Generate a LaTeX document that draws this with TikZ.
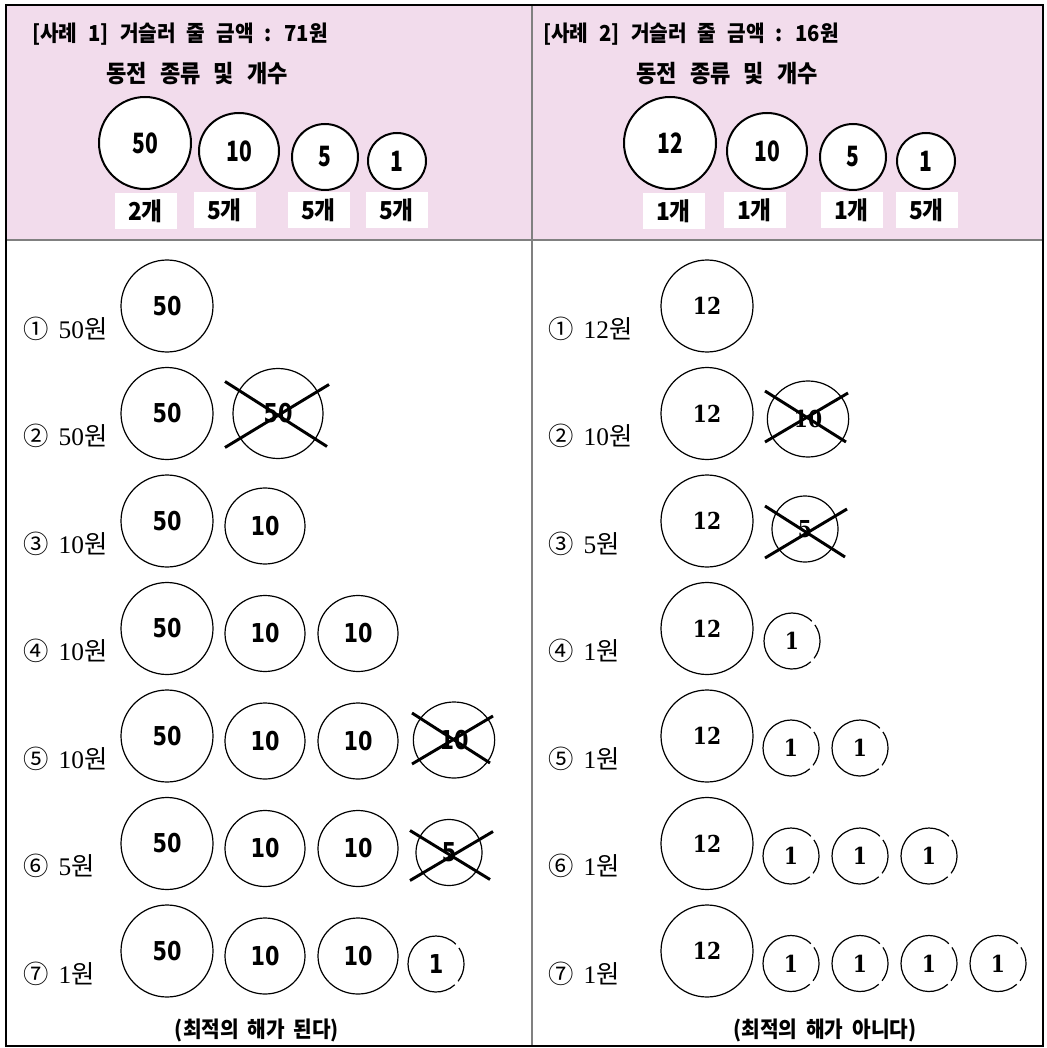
\documentclass[tikz,border=0pt]{standalone}
\usepackage{fontspec}
\setmainfont{Liberation Serif}
\newfontfamily\kr{Noto Sans CJK KR}
\newfontfamily\hd{Noto Sans CJK KR}[FakeStretch=0.92]
\newfontfamily\hdnum{Noto Sans CJK KR}[FakeStretch=0.75]
\newfontfamily\lnum{DejaVu Sans}[FakeStretch=0.8]
\newfontfamily\rnum{DejaVu Serif}[FakeStretch=0.87]
\usetikzlibrary{shapes.geometric}
\definecolor{hdpink}{RGB}{242,220,236}
\definecolor{rulegrey}{RGB}{128,128,128}
\newcommand\titlefont{\hd\bfseries\fontsize{16.5}{16.5}\selectfont\spaceskip 0.5em\relax}
\newcommand\subfont{\hd\bfseries\fontsize{18}{18}\selectfont\spaceskip 0.55em\relax}
\newcommand\conclfont{\hd\bfseries\fontsize{16.5}{16.5}\selectfont\spaceskip 0.4em\relax}
\tikzset{
  frameline/.style={line width=1.3pt,black},
  greyline/.style={line width=1.5pt,rulegrey},
  hcoin/.style={draw,line width=1.5pt,fill=white,ellipse,inner sep=0pt,outer sep=0pt,
    font=\hdnum\bfseries\fontsize{21}{21}\selectfont},
  hbig/.style={hcoin,minimum width=69pt,minimum height=69pt},
  hten/.style={hcoin,minimum width=60pt,minimum height=57pt},
  hfive/.style={hcoin,minimum width=49.5pt,minimum height=49.5pt},
  hone/.style={hcoin,minimum width=43.5pt,minimum height=42pt},
  cnt/.style={fill=white,inner sep=0pt,minimum width=46.5pt,minimum height=27pt,
    font=\hd\bfseries\fontsize{18.5}{18.5}\selectfont},
  htitle/.style={anchor=west,inner sep=0pt,font=\titlefont},
  hsub/.style={anchor=west,inner sep=0pt,font=\subfont},
  bcoin/.style={draw,line width=0.9pt,ellipse,inner sep=0pt,outer sep=0pt},
  lfont/.style={font=\lnum\bfseries\fontsize{19.5}{19.5}\selectfont},
  rfont/.style={font=\rnum\bfseries\fontsize{17.5}{17.5}\selectfont},
  bbig/.style={bcoin,minimum width=69pt,minimum height=69pt},
  xbig/.style={bcoin,minimum width=67.5pt,minimum height=67.5pt},
  bten/.style={bcoin,minimum width=60pt,minimum height=57pt},
  xten/.style={bcoin,minimum width=61pt,minimum height=57pt},
  xfive/.style={bcoin,minimum width=49.5pt,minimum height=49.5pt},
  gone/.style={circle,inner sep=0pt,outer sep=0pt,minimum size=42pt},
  gline/.style={line width=0.9pt},
  xline/.style={line width=2.2pt,line cap=butt},
  rowlab/.style={anchor=base west,inner sep=0pt,font=\fontsize{19}{19}\selectfont},
  concl/.style={inner sep=0pt,font=\conclfont},
}
\newcommand\gapcoin[1]{%
  \draw[gline] (#1.45) arc[start angle=45,end angle=312,radius=21pt];
  \draw[gline] (#1.322) arc[start angle=322,end angle=395,radius=21pt];}
\newcommand\rl[2]{{\kr #1}\hspace{0.4em}#2{\kr 원}}
\begin{document}
\begin{tikzpicture}[x=0.75pt,y=-0.75pt]
\useasboundingbox (0,0) rectangle (1046,1048);
% header background and frame
\fill[hdpink] (6,5) rectangle (1043,240);
\draw[greyline] (6,240) -- (1043,240);
\draw[greyline] (532,5) -- (532,1046);
\draw[frameline] (6,5) -- (1043,5) -- (1043,1046) -- (6,1046) -- cycle;

% ===== header left =====
\node[htitle] (t1) at (32,34) {[사례 1] 거슬러 줄 금액 : 71원};
\node[hsub] (s1) at (106,74) {동전 종류 및 개수};
\node[hbig]  (h50) at (145,143) {50};
\node[hten]  (h10) at (239,151) {10};
\node[hfive] (h5)  at (325,157) {5};
\node[hone]  (h1)  at (397,161) {1};
\node[cnt] (n50) at (145.5,211) {2개};
\node[cnt] (n10) at (224.5,210) {5개};
\node[cnt] (n5)  at (318.5,210) {5개};
\node[cnt] (n1)  at (396.5,210) {5개};

% ===== header right =====
\node[htitle] (t2) at (543,34) {[사례 2] 거슬러 줄 금액 : 16원};
\node[hsub] (s2) at (636,74) {동전 종류 및 개수};
\node[hbig]  (k12) at (670,143) {12};
\node[hten]  (k10) at (767,151) {10};
\node[hfive] (k5)  at (853,157) {5};
\node[hone]  (k1)  at (926,161) {1};
\node[cnt] (m12) at (673.5,211) {1개};
\node[cnt] (m10) at (754.5,210) {1개};
\node[cnt] (m5)  at (851.5,210) {1개};
\node[cnt] (m1)  at (926.5,210) {5개};

% ===== left body =====
\node[rowlab] (la1) at (23,338)   {\rl{①}{50}};
\node[rowlab] (la2) at (23,445.5) {\rl{②}{50}};
\node[rowlab] (la3) at (23,553)   {\rl{③}{10}};
\node[rowlab] (la4) at (23,660.5) {\rl{④}{10}};
\node[rowlab] (la5) at (23,768)   {\rl{⑤}{10}};
\node[rowlab] (la6) at (23,875.5) {\rl{⑥}{5}};
\node[rowlab] (la7) at (23,983)   {\rl{⑦}{1}};

\node[bbig,lfont] (a1) at (167,306) {50};

\node[bbig,lfont] (a2) at (167,413.5) {50};
\node[xbig,lfont] (a2x) at (278,413.5) {50};
\draw[xline] ([shift={(-53,-32)}]a2x.center) -- ([shift={(49,33)}]a2x.center);
\draw[xline] ([shift={(-53,34)}]a2x.center) -- ([shift={(51,-29)}]a2x.center);

\node[bbig,lfont] (a3) at (167,521) {50};
\node[bten,lfont] (a3b) at (265,526) {10};

\node[bbig,lfont] (a4) at (167,628.5) {50};
\node[bten,lfont] (a4b) at (265,633.5) {10};
\node[bten,lfont] (a4c) at (358,633.5) {10};

\node[bbig,lfont] (a5) at (167,736) {50};
\node[bten,lfont] (a5b) at (265,741) {10};
\node[bten,lfont] (a5c) at (358,741) {10};
\node[xten,lfont] (a5x) at (454,740) {10};
\draw[xline] ([shift={(-42,-27)}]a5x.center) -- ([shift={(36,23)}]a5x.center);
\draw[xline] ([shift={(-42,24)}]a5x.center) -- ([shift={(39,-24)}]a5x.center);

\node[bbig,lfont] (a6) at (167,843.5) {50};
\node[bten,lfont] (a6b) at (265,848.5) {10};
\node[bten,lfont] (a6c) at (358,848.5) {10};
\node[xfive,lfont] (a6x) at (449,852.5) {5};
\draw[xline] ([shift={(-39,-22)}]a6x.center) -- ([shift={(41,27)}]a6x.center);
\draw[xline] ([shift={(-39,28)}]a6x.center) -- ([shift={(44,-21)}]a6x.center);

\node[bbig,lfont] (a7) at (167,951) {50};
\node[bten,lfont] (a7b) at (265,956) {10};
\node[bten,lfont] (a7c) at (358,956) {10};
\node[gone,lfont] (a7d) at (436,964) {1};
\gapcoin{a7d}

\node[concl] (cl) at (257,1030) {(최적의 해가 된다)};

% ===== right body =====
\node[rowlab] (lb1) at (548,338)   {\rl{①}{12}};
\node[rowlab] (lb2) at (548,445.5) {\rl{②}{10}};
\node[rowlab] (lb3) at (548,553)   {\rl{③}{5}};
\node[rowlab] (lb4) at (548,660.5) {\rl{④}{1}};
\node[rowlab] (lb5) at (548,768)   {\rl{⑤}{1}};
\node[rowlab] (lb6) at (548,875.5) {\rl{⑥}{1}};
\node[rowlab] (lb7) at (548,983)   {\rl{⑦}{1}};

\node[bbig,rfont] (b1) at (707,306) {12};

\node[bbig,rfont] (b2) at (707,413.5) {12};
\node[xten,rfont] (b2x) at (808,419) {10};
\draw[xline] ([shift={(-43,-28)}]b2x.center) -- ([shift={(38,23)}]b2x.center);
\draw[xline] ([shift={(-43,23)}]b2x.center) -- ([shift={(40,-26)}]b2x.center);

\node[bbig,rfont] (b3) at (707,521) {12};
\node[xfive,rfont] (b3x) at (805,529) {5};
\draw[xline] ([shift={(-40,-23)}]b3x.center) -- ([shift={(40,28)}]b3x.center);
\draw[xline] ([shift={(-40,29)}]b3x.center) -- ([shift={(42,-20)}]b3x.center);

\node[bbig,rfont] (b4) at (707,628.5) {12};
\node[gone,rfont] (b4a) at (792,641) {1};
\gapcoin{b4a}

\node[bbig,rfont] (b5) at (707,736) {12};
\node[gone,rfont] (b5a) at (791,748) {1};
\node[gone,rfont] (b5b) at (860,748) {1};
\gapcoin{b5a}\gapcoin{b5b}

\node[bbig,rfont] (b6) at (707,843.5) {12};
\node[gone,rfont] (b6a) at (791,856) {1};
\node[gone,rfont] (b6b) at (860,856) {1};
\node[gone,rfont] (b6c) at (929,856) {1};
\gapcoin{b6a}\gapcoin{b6b}\gapcoin{b6c}

\node[bbig,rfont] (b7) at (707,951) {12};
\node[gone,rfont] (b7a) at (791,963.5) {1};
\node[gone,rfont] (b7b) at (860,963.5) {1};
\node[gone,rfont] (b7c) at (929,963.5) {1};
\node[gone,rfont] (b7d) at (998,963.5) {1};
\gapcoin{b7a}\gapcoin{b7b}\gapcoin{b7c}\gapcoin{b7d}

\node[concl] (cr) at (825,1030) {(최적의 해가 아니다)};
\end{tikzpicture}
\end{document}
